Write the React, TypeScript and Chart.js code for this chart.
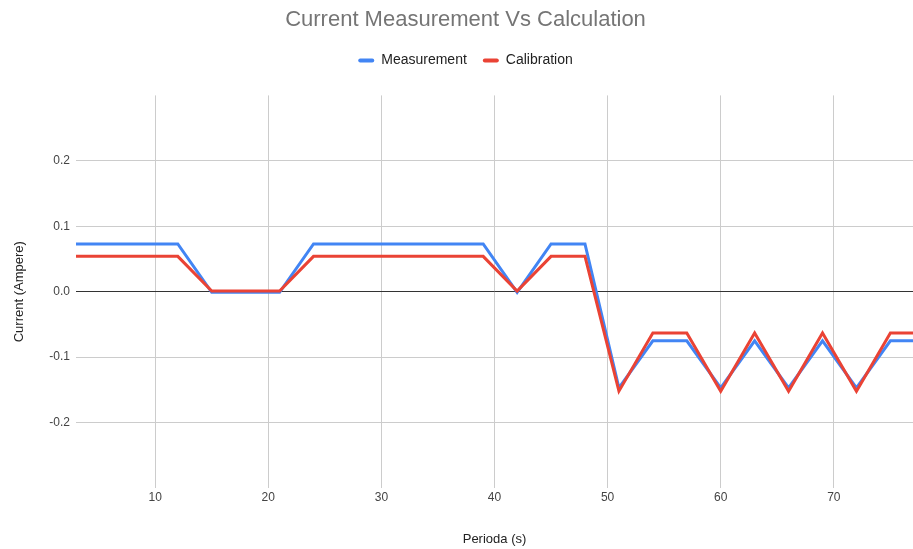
import React, { useEffect, useRef } from "react";
import { Chart, registerables } from "chart.js";

Chart.register(...registerables);

const PERIOD = [3, 6, 9, 12, 15, 18, 21, 24, 27, 30, 33, 36, 39, 42, 45, 48, 51, 54, 57, 60, 63, 66, 69, 72, 75, 77];
const MEASUREMENT = [
  0.073, 0.073, 0.073, 0.073, -0.001, -0.001, -0.001, 0.073, 0.073, 0.073, 0.073, 0.073, 0.073,
  -0.001, 0.073, 0.073, -0.147, -0.075, -0.075, -0.147, -0.075, -0.147, -0.075, -0.147, -0.075, -0.075,
];
const CALIBRATION = [
  0.054, 0.054, 0.054, 0.054, 0.001, 0.001, 0.001, 0.054, 0.054, 0.054, 0.054, 0.054, 0.054,
  0.001, 0.054, 0.054, -0.152, -0.063, -0.063, -0.152, -0.063, -0.152, -0.063, -0.152, -0.063, -0.063,
];
const X_TICKS = [10, 20, 30, 40, 50, 60, 70];
const Y_TICKS = [-0.2, -0.1, 0, 0.1, 0.2];

const FONT = "Arial, 'Liberation Sans', sans-serif";

const shiftHeader = {
  id: "shiftHeader",
  afterLayout(chart: any) {
    const blocks = [chart.titleBlock, chart.legend];
    for (const b of blocks) {
      if (b) {
        b.left += 9;
        b.right += 9;
      }
    }
  },
};

export default function App() {
  const ref = useRef<HTMLCanvasElement>(null);
  useEffect(() => {
    if (!ref.current) return;
    const chart = new Chart(ref.current, {
      type: "line",
      plugins: [shiftHeader],
      data: {
        datasets: [
          {
            label: "Measurement",
            data: PERIOD.map((x, i) => ({ x, y: MEASUREMENT[i] })),
            borderColor: "#4285F4",
            backgroundColor: "#4285F4",
            borderWidth: 3,
            pointRadius: 0,
            tension: 0,
            order: 1,
          },
          {
            label: "Calibration",
            data: PERIOD.map((x, i) => ({ x, y: CALIBRATION[i] })),
            borderColor: "#EA4335",
            backgroundColor: "#EA4335",
            borderWidth: 3,
            pointRadius: 0,
            tension: 0,
            order: 0,
          },
        ],
      },
      options: {
        responsive: false,
        animation: false,
        layout: { padding: 0 },
        plugins: {
          tooltip: { enabled: false },
          title: {
            display: true,
            text: "Current Measurement Vs Calculation",
            color: "#757575",
            font: { family: FONT, size: 22, weight: "normal" },
            padding: { top: 7, bottom: 4 },
          },
          subtitle: {
            display: true,
            text: "",
            weight: 500,
            font: { size: 1, lineHeight: 1 },
            padding: { top: 0, bottom: 17 },
          } as any,
          legend: {
            display: true,
            position: "top",
            labels: {
              boxWidth: 16,
              boxHeight: 4,
              padding: 16,
              color: "#222222",
              font: { family: FONT, size: 14 },
              sort: (a: any, b: any) => a.datasetIndex - b.datasetIndex,
              generateLabels: (c: any) =>
                Chart.defaults.plugins.legend.labels
                  .generateLabels(c)
                  .map((l: any) => ({ ...l, lineWidth: 0, borderRadius: 2 })),
            },
          },
        },
        scales: {
          x: {
            type: "linear",
            min: 3,
            max: 77,
            afterBuildTicks: (axis: any) => {
              axis.ticks = X_TICKS.map((v) => ({ value: v }));
            },
            grid: { color: "#cccccc", lineWidth: 1, drawTicks: false },
            border: { display: false },
            ticks: {
              color: "#444444",
              font: { family: FONT, size: 12 },
              padding: 2,
              maxRotation: 0,
            },
            title: {
              display: true,
              text: "Perioda (s)",
              color: "#222222",
              font: { family: FONT, size: 13 },
              padding: { top: 25, bottom: 2 },
            },
          },
          y: {
            type: "linear",
            min: -0.3,
            max: 0.3,
            afterBuildTicks: (axis: any) => {
              axis.ticks = Y_TICKS.map((v) => ({ value: v }));
            },
            afterFit: (axis: any) => {
              axis.width = 76;
            },
            grid: {
              color: (ctx: any) => (ctx.tick && Math.abs(ctx.tick.value) < 1e-9 ? "#333333" : "#cccccc"),
              lineWidth: 1,
              drawTicks: false,
            },
            border: { display: false },
            ticks: {
              color: "#444444",
              font: { family: FONT, size: 12 },
              padding: 6,
              callback: (v: any) => Number(v).toFixed(1),
            },
            title: {
              display: true,
              text: "Current (Ampere)",
              color: "#222222",
              font: { family: FONT, size: 13 },
              padding: { top: 12, bottom: 10 },
            },
          },
        },
      },
    });
    return () => chart.destroy();
  }, []);
  return (
    <div style={{ position: "fixed", left: 0, top: 0, width: 913, height: 549, background: "#fff" }}>
      <canvas ref={ref} width={913} height={549} />
    </div>
  );
}
